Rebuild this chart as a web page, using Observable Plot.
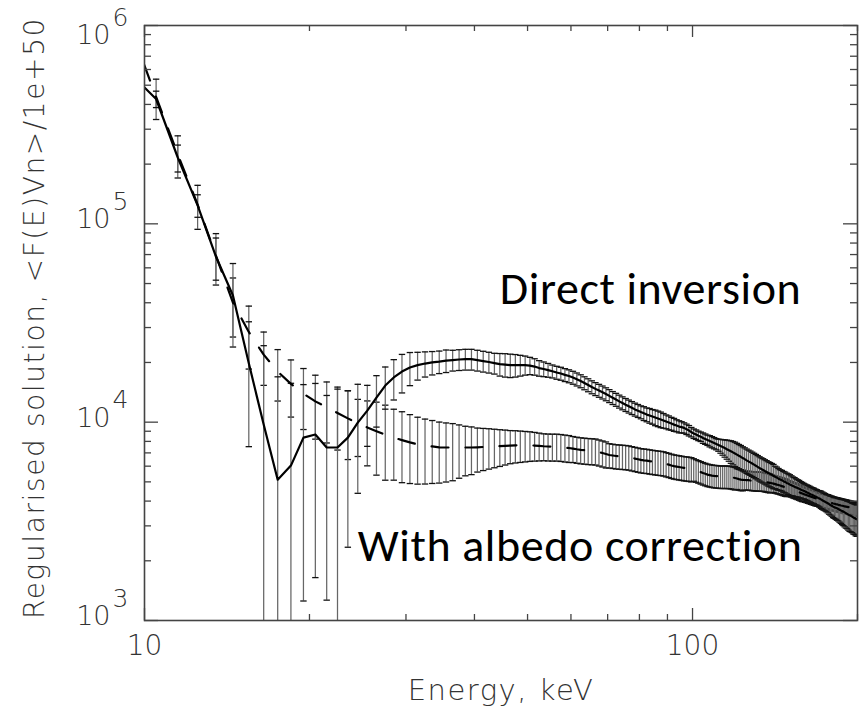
<!DOCTYPE html>
<html><head><meta charset="utf-8">
<script src="https://cdn.jsdelivr.net/npm/d3@7"></script>
<script src="https://cdn.jsdelivr.net/npm/@observablehq/plot@0.6"></script>
<style>body{margin:0;background:#fff}</style>
</head><body><div id="chart"></div>
<script>
// Energy bins (keV), 1 keV wide, bin centres
const energyKeV = d3.range(9.5, 200, 1);

// Direct inversion (solid line): value and fractional uncertainty per bin
const directValue = [
560000,426000,216000,124000,68400,43500,19800,9720,5130,6040,
8360,8660,7450,7450,8360,9950,11440,13300,15300,16800,
18000,18860,19400,19750,20000,20200,20450,20570,20700,20800,
20800,20570,20330,20100,19860,19630,19510,19400,19400,19400,
19400,19290,19070,18740,18530,18310,18060,17790,17590,17320,
17080,16790,16460,16120,15750,15390,15030,14720,14430,14150,
13860,13570,13270,13000,12730,12480,12240,12020,11810,11600,
11420,11240,11080,10920,10800,10670,10550,10430,10310,10190,
10070,9950,9840,9720,9610,9500,9440,9360,9220,9070,
8915,8760,8660,8540,8450,8320,8220,8120,8030,7940,
7850,7760,7670,7580,7490,7400,7310,7220,7130,7040,
6950,6860,6770,6690,6590,6510,6420,6340,6270,6190,
6110,6030,5950,5870,5800,5740,5670,5610,5540,5490,
5430,5370,5310,5250,5190,5140,5100,5040,5000,4940,
4900,4850,4810,4770,4730,4690,4660,4620,4580,4540,
4510,4470,4430,4400,4360,4320,4290,4260,4220,4190,
4150,4120,4080,4040,4000,3970,3930,3900,3860,3820,
3790,3750,3720,3700,3680,3650,3620,3590,3560,3540,
3510,3480,3450,3420,3390,3370,3340,3310,3290,3260,
3240];
const directRelErr = [
0.09,0.095,0.155,0.13,0.24,0.45,0.62,1.5,2.3,1.6,
0.85,0.81,0.83,0.97,0.72,0.56,0.34,0.29,0.24,0.23,
0.22,0.19,0.16,0.145,0.135,0.13,0.13,0.12,0.12,0.12,
0.12,0.12,0.12,0.12,0.12,0.13,0.135,0.135,0.13,0.12,
0.11,0.10,0.095,0.09,0.085,0.08,0.075,0.075,0.075,0.075,
0.075,0.075,0.075,0.075,0.075,0.075,0.075,0.075,0.075,0.075,
0.075,0.075,0.075,0.075,0.075,0.075,0.075,0.075,0.075,0.075,
0.075,0.075,0.08,0.08,0.085,0.085,0.09,0.09,0.09,0.085,
0.08,0.08,0.075,0.075,0.07,0.07,0.065,0.06,0.06,0.06,
0.055,0.055,0.055,0.055,0.055,0.06,0.06,0.06,0.065,0.065,
0.065,0.065,0.07,0.08,0.09,0.10,0.11,0.12,0.13,0.135,
0.14,0.14,0.14,0.14,0.14,0.14,0.14,0.14,0.14,0.14,
0.14,0.14,0.14,0.14,0.14,0.14,0.14,0.14,0.14,0.14,
0.14,0.14,0.13,0.13,0.125,0.12,0.12,0.12,0.12,0.12,
0.12,0.12,0.115,0.11,0.11,0.105,0.10,0.10,0.095,0.095,
0.09,0.09,0.09,0.09,0.09,0.09,0.09,0.09,0.09,0.09,
0.09,0.095,0.10,0.10,0.10,0.10,0.10,0.105,0.11,0.11,
0.115,0.12,0.12,0.125,0.13,0.13,0.135,0.14,0.145,0.15,
0.155,0.16,0.16,0.165,0.17,0.17,0.17,0.175,0.175,0.18,
0.18];

// With albedo correction (dashed line)
const albedoValue = [
919000,436000,224000,125100,69200,40100,28500,21900,18000,15600,
13910,12730,11900,11130,10450,9870,9410,9010,8640,8360,
8120,7910,7730,7620,7550,7470,7450,7450,7450,7450,
7450,7470,7500,7530,7550,7570,7600,7620,7640,7640,
7640,7640,7620,7590,7560,7540,7530,7530,7500,7450,
7410,7360,7300,7250,7220,7190,7170,7150,7070,6990,
6910,6830,6790,6750,6730,6710,6690,6660,6600,6550,
6500,6450,6420,6400,6360,6330,6300,6270,6250,6220,
6160,6110,6050,6000,5970,5940,5910,5880,5860,5840,
5810,5790,5720,5660,5600,5540,5490,5440,5410,5380,
5360,5350,5330,5320,5320,5320,5320,5310,5290,5260,
5230,5200,5160,5130,5120,5110,5100,5100,5080,5070,
5060,5050,5040,5040,5030,5030,5000,4980,4960,4940,
4920,4900,4870,4840,4820,4790,4760,4730,4700,4680,
4650,4630,4600,4560,4530,4500,4470,4440,4400,4370,
4340,4310,4290,4260,4240,4210,4190,4160,4140,4120,
4090,4070,4050,4030,4010,4000,3980,3960,3940,3920,
3910,3890,3880,3860,3850,3830,3820,3800,3790,3780,
3760,3750,3740,3730,3710,3700,3690,3680,3660,3650,
3630];
const albedoRelErr = [
0.23,0.23,0.24,0.25,0.29,0.33,0.35,0.30,0.29,0.32,
0.34,0.355,0.34,0.35,0.38,0.32,0.36,0.40,0.41,0.39,
0.39,0.38,0.37,0.36,0.35,0.34,0.33,0.32,0.30,0.28,
0.27,0.25,0.24,0.23,0.22,0.21,0.20,0.19,0.185,0.18,
0.175,0.17,0.165,0.16,0.155,0.155,0.155,0.155,0.155,0.155,
0.155,0.15,0.15,0.15,0.15,0.15,0.15,0.15,0.15,0.15,
0.15,0.14,0.14,0.14,0.14,0.14,0.14,0.14,0.14,0.14,
0.14,0.14,0.14,0.14,0.14,0.14,0.14,0.14,0.14,0.14,
0.14,0.14,0.14,0.14,0.14,0.14,0.14,0.14,0.14,0.14,
0.14,0.13,0.13,0.13,0.13,0.13,0.13,0.13,0.13,0.13,
0.13,0.13,0.13,0.13,0.13,0.13,0.13,0.13,0.13,0.13,
0.13,0.12,0.12,0.12,0.12,0.11,0.11,0.11,0.11,0.11,
0.11,0.11,0.11,0.11,0.11,0.11,0.11,0.11,0.11,0.11,
0.10,0.10,0.10,0.10,0.10,0.10,0.10,0.10,0.10,0.10,
0.09,0.09,0.09,0.09,0.09,0.09,0.09,0.09,0.09,0.09,
0.085,0.085,0.085,0.085,0.085,0.085,0.085,0.085,0.085,0.085,
0.08,0.08,0.08,0.08,0.08,0.08,0.08,0.08,0.08,0.08,
0.08,0.08,0.08,0.08,0.08,0.08,0.08,0.08,0.08,0.08,
0.08,0.08,0.08,0.08,0.08,0.08,0.08,0.08,0.08,0.08,
0.08];

// Axis ticks and labels
const xMajorTicks = [10, 100];
const xMinorTicks = [20, 30, 40, 50, 60, 70, 80, 90, 200];
const yMajorTicks = [1e3, 1e4, 1e5, 1e6];
const yMinorTicks = [2000,3000,4000,5000,6000,7000,8000,9000,
  20000,30000,40000,50000,60000,70000,80000,90000,
  200000,300000,400000,500000,600000,700000,800000,900000];
const yLabelTicks = [1e3, 1e4, 1e5];   // labels placed beside their tick
const yTopLabelTicks = [1e6];          // top label nudged down to stay in the page
const xTitle = "Energy, keV";
const yTitle = "Regularised solution, <F(E)Vn>/1e+50";
const annotations = [
  {text: "Direct inversion", energy: 44.5, value: 39600},
  {text: "With albedo correction", energy: 24.5, value: 2000}
];

// Build tables
const direct = energyKeV.map((e, i) => ({energy: e, value: directValue[i], err: directValue[i] * directRelErr[i]}));
const albedo = energyKeV.map((e, i) => ({energy: e, value: albedoValue[i], err: albedoValue[i] * albedoRelErr[i]}));
const lo = d => Math.max(d.value - d.err, 1);
const hi = d => d.value + d.err;
const expOf = d => String(Math.round(Math.log10(d)));

const W = 864, H = 714, ML = 144, MR = 7, MT = 25, MB = 94;
const FW = W - ML - MR, FH = H - MT - MB;
const capSymbol = {draw(ctx, size) { const w = Math.sqrt(size / Math.PI); ctx.moveTo(-w, 0); ctx.lineTo(w, 0); }};
const axisFont = "'DejaVu Sans ExtraLight','DejaVu Sans',sans-serif";
const axisColor = "#444";
const labelStyle = {fontWeight: 200, fill: "#333"};

function errorMarks(data) {
  return [
    Plot.ruleX(data, {x: "energy", y1: lo, y2: hi, stroke: "#666", strokeWidth: 1.25, clip: true}),
    Plot.dot(data, {x: "energy", y: lo, symbol: capSymbol, r: 3.2, fill: "none", stroke: "#111", strokeWidth: 1.3, clip: true}),
    Plot.dot(data, {x: "energy", y: hi, symbol: capSymbol, r: 3.2, fill: "none", stroke: "#111", strokeWidth: 1.3, clip: true})
  ];
}

const chart = Plot.plot({
  width: W, height: H,
  marginLeft: ML, marginRight: MR, marginTop: MT, marginBottom: MB,
  style: {fontFamily: axisFont, background: "#fff", overflow: "visible"},
  x: {type: "log", domain: [10, 200], axis: null},
  y: {type: "log", domain: [1e3, 1e6], axis: null},
  marks: [
    ...errorMarks(albedo),
    ...errorMarks(direct),
    Plot.line(albedo, {x: "energy", y: "value", stroke: "#000", strokeWidth: 2.2, strokeDasharray: "17,17", clip: true}),
    Plot.line(direct, {x: "energy", y: "value", stroke: "#000", strokeWidth: 2.2, clip: true}),
    // ticks pointing inward on all four sides
    Plot.tickX(xMinorTicks, {x: d => d, insetTop: FH - 6, stroke: axisColor, strokeWidth: 1.3}),
    Plot.tickX(xMajorTicks, {x: d => d, insetTop: FH - 12, stroke: axisColor, strokeWidth: 1.3}),
    Plot.tickX(xMinorTicks, {x: d => d, insetBottom: FH - 6, stroke: axisColor, strokeWidth: 1.3}),
    Plot.tickX(xMajorTicks, {x: d => d, insetBottom: FH - 12, stroke: axisColor, strokeWidth: 1.3}),
    Plot.tickY(yMinorTicks, {y: d => d, insetRight: FW - 7, stroke: axisColor, strokeWidth: 1.3}),
    Plot.tickY(yMajorTicks, {y: d => d, insetRight: FW - 14, stroke: axisColor, strokeWidth: 1.3}),
    Plot.tickY(yMinorTicks, {y: d => d, insetLeft: FW - 7, stroke: axisColor, strokeWidth: 1.3}),
    Plot.tickY(yMajorTicks, {y: d => d, insetLeft: FW - 14, stroke: axisColor, strokeWidth: 1.3}),
    Plot.frame({stroke: axisColor, strokeWidth: 1.6}),
    // tick labels
    Plot.text(xMajorTicks, {x: d => d, frameAnchor: "bottom", dy: 34, text: d => String(d), textAnchor: "middle", fontSize: 28, ...labelStyle}),
    Plot.text(yLabelTicks, {y: d => d, frameAnchor: "left", dx: -34, dy: -4, text: () => "10", textAnchor: "end", fontSize: 27, ...labelStyle}),
    Plot.text(yLabelTicks, {y: d => d, frameAnchor: "left", dx: -32, dy: -22, text: expOf, textAnchor: "start", fontSize: 25, ...labelStyle}),
    Plot.text(yTopLabelTicks, {y: d => d, frameAnchor: "left", dx: -34, dy: 10, text: () => "10", textAnchor: "end", fontSize: 27, ...labelStyle}),
    Plot.text(yTopLabelTicks, {y: d => d, frameAnchor: "left", dx: -32, dy: -8, text: expOf, textAnchor: "start", fontSize: 25, ...labelStyle}),
    // axis titles
    Plot.text([xTitle], {frameAnchor: "bottom", dy: 79, text: d => d, textAnchor: "middle", fontSize: 29, ...labelStyle}),
    Plot.text([yTitle], {frameAnchor: "left", dx: -109, dy: -5, rotate: -90, text: d => d, textAnchor: "middle", fontSize: 28, ...labelStyle}),
    // annotations
    Plot.text(annotations, {x: "energy", y: "value", text: "text", textAnchor: "start", lineAnchor: "bottom", fontSize: 46, fontFamily: "Carlito, Lato, 'Open Sans', sans-serif", fill: "#000"})
  ]
});
// letter spacing to mimic the wide plotting font of the original
chart.querySelectorAll("text").forEach(t => {
  const s = t.textContent;
  if (s === yTitle) t.style.letterSpacing = "1.6px";
  else if (s === xTitle) t.style.letterSpacing = "1.5px";
  else if (annotations.some(a => a.text === s)) t.style.letterSpacing = "0.6px";
});
document.getElementById("chart").appendChild(chart);
</script>
</body></html>
